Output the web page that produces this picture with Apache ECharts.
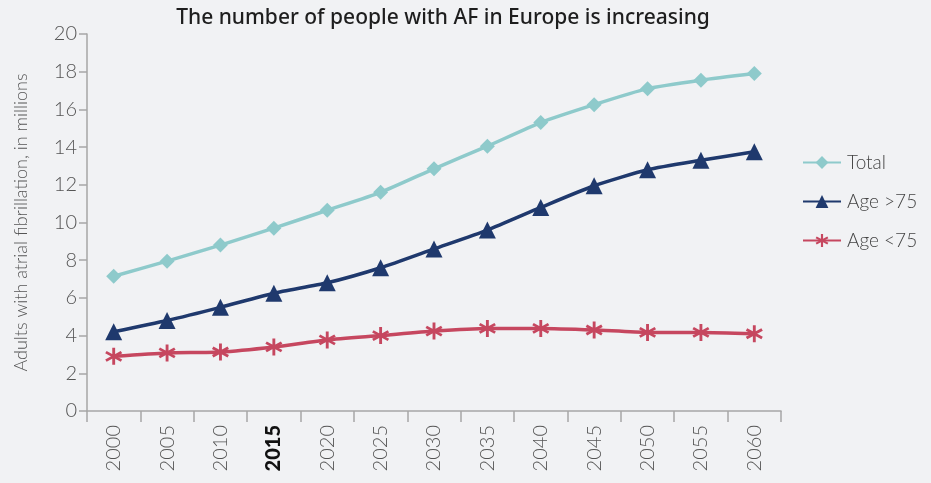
<!DOCTYPE html>
<html>
<head>
<meta charset="utf-8">
<script src="https://cdn.jsdelivr.net/npm/echarts@6/dist/echarts.min.js"></script>
<style>
html, body { margin: 0; padding: 0; background: #f1f2f4; }
#chart { width: 931px; height: 483px; }
</style>
</head>
<body>
<div id="chart"></div>
<script>
var years = ['2000', '2005', '2010', '2015', '2020', '2025', '2030', '2035', '2040', '2045', '2050', '2055', '2060'];
var total = [7.15, 7.95, 8.8, 9.7, 10.65, 11.6, 12.85, 14.05, 15.3, 16.25, 17.1, 17.55, 17.9];
var over75 = [4.2, 4.8, 5.5, 6.25, 6.8, 7.6, 8.6, 9.6, 10.8, 11.95, 12.8, 13.3, 13.75];
var under75 = [2.9, 3.08, 3.13, 3.4, 3.77, 4.0, 4.24, 4.38, 4.38, 4.3, 4.17, 4.17, 4.1];
var yTicks = [0, 2, 4, 6, 8, 10, 12, 14, 16, 18, 20];

// six-armed asterisk marker
var asterisk = 'path://M-1.6 -10 L1.6 -10 L1.6 10 L-1.6 10 Z' +
    'M7.86 6.39 L-9.46 -3.61 L-7.86 -6.39 L9.46 3.61 Z' +
    'M9.46 -3.61 L-7.86 6.39 L-9.46 3.61 L7.86 -6.39 Z';

var font = 'Lato, "Open Sans", sans-serif';

var myChart = echarts.init(document.getElementById('chart'));
var option = {
    backgroundColor: '#f1f2f4',
    title: {
        text: 'The number of people with AF in Europe is increasing',
        left: 438,
        textAlign: 'center',
        top: 3,
        textStyle: { fontFamily: '"Noto Sans", "Open Sans", sans-serif', fontSize: 21, fontWeight: 500, color: '#1e1e1e' }
    },
    legend: {
        orient: 'vertical',
        left: 797,
        top: 148,
        itemWidth: 38,
        itemHeight: 16,
        itemGap: 20,
        textStyle: { fontFamily: font, fontSize: 19, fontWeight: 300, color: '#444', padding: [0, 0, 0, 1] },
        data: ['Total', 'Age >75', 'Age <75']
    },
    grid: { left: 87, right: 150, top: 34, bottom: 72 },
    xAxis: {
        type: 'category',
        data: years,
        boundaryGap: true,
        axisLine: { lineStyle: { color: '#a6a6a6', width: 1.5 } },
        axisTick: { show: true, length: 11, interval: 0, lineStyle: { color: '#a6a6a6', width: 1.5 } },
        axisLabel: {
            interval: 0,
            rotate: 90,
            margin: 14,
            fontFamily: font,
            fontSize: 20,
            fontWeight: 300,
            color: '#555',
            formatter: function (v) { return v === '2015' ? '{b|' + v + '}' : v; },
            rich: { b: { fontFamily: font, fontSize: 20, fontWeight: 900, color: '#111' } }
        }
    },
    yAxis: {
        type: 'value',
        min: yTicks[0],
        max: yTicks[yTicks.length - 1],
        interval: 2,
        name: 'Adults with atrial fibrillation, in millions',
        nameLocation: 'middle',
        nameGap: 57,
        nameTextStyle: { fontFamily: font, fontSize: 18, fontWeight: 300, color: '#555' },
        splitLine: { show: false },
        axisLine: { show: true, lineStyle: { color: '#a6a6a6', width: 1.5 } },
        axisTick: { show: true, length: 8, lineStyle: { color: '#a6a6a6', width: 1.5 } },
        axisLabel: { fontFamily: font, fontSize: 20, fontWeight: 300, color: '#555', margin: 10 }
    },
    series: [
        {
            name: 'Total',
            type: 'line',
            data: total,
            smooth: 0.2,
            symbol: 'diamond',
            symbolSize: 15,
            color: '#8ecacb',
            lineStyle: { width: 3.5 },
            itemStyle: { color: '#8ecacb' }
        },
        {
            name: 'Age >75',
            type: 'line',
            data: over75,
            smooth: 0.2,
            symbol: 'triangle',
            symbolSize: 17,
            color: '#1f396d',
            lineStyle: { width: 3.5 },
            itemStyle: { color: '#1f396d' }
        },
        {
            name: 'Age <75',
            type: 'line',
            data: under75,
            smooth: 0.2,
            symbol: asterisk,
            symbolSize: 17,
            color: '#c6475f',
            lineStyle: { width: 3.5 },
            itemStyle: { color: '#c6475f' }
        }
    ]
};
myChart.setOption(option);
window.addEventListener('resize', function () {
    myChart.resize();
});
</script>
</body>
</html>
